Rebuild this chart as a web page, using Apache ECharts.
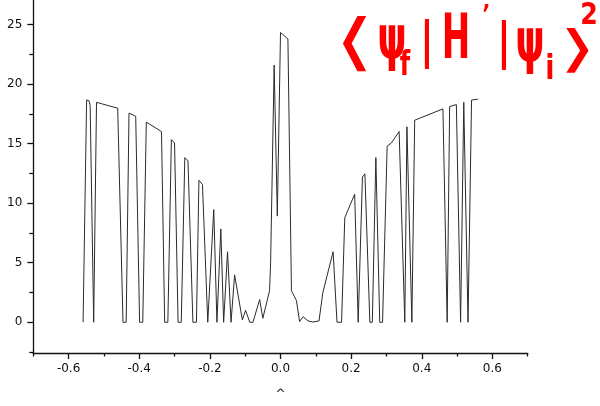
<!DOCTYPE html>
<html>
<head>
<meta charset="utf-8">
<script src="https://cdn.jsdelivr.net/npm/echarts@6/dist/echarts.min.js"></script>
<style>html,body{margin:0;padding:0;background:#fff}#c{width:600px;height:406px}</style>
</head>
<body>
<div id="c"></div>
<script>
// Data
const xValues = [-0.559,-0.549,-0.542,-0.539,-0.529,-0.521,-0.461,-0.446,-0.437,-0.429,-0.410,-0.399,-0.390,-0.380,-0.337,-0.328,-0.319,-0.309,-0.300,-0.290,-0.281,-0.271,-0.262,-0.248,-0.238,-0.231,-0.221,-0.206,-0.189,-0.180,-0.169,-0.161,-0.150,-0.140,-0.130,-0.108,-0.099,-0.087,-0.078,-0.059,-0.050,-0.031,-0.028,-0.018,-0.009,0.000,0.021,0.026,0.031,0.045,0.054,0.064,0.078,0.092,0.109,0.120,0.149,0.160,0.173,0.182,0.210,0.220,0.232,0.239,0.253,0.260,0.270,0.281,0.289,0.302,0.314,0.336,0.352,0.358,0.372,0.380,0.460,0.472,0.479,0.498,0.510,0.519,0.531,0.541,0.559];
const yValues = [0,18.66,18.58,18.21,0,18.46,17.97,0,0,17.56,17.29,0,0,16.80,16.01,0,0,15.33,15.05,0,0,13.82,13.55,0,0,11.92,11.56,0,9.46,0,7.83,0,5.92,0,3.98,0.2,1.01,0,0,1.91,0.33,2.65,4.96,21.59,8.91,24.32,23.78,13.31,2.65,1.83,0.06,0.47,0.11,0.02,0.11,2.51,5.92,0,0,8.78,10.75,0,12.19,12.46,0,0,13.82,0,0,14.78,15.05,16.01,0,16.41,0,16.96,17.91,0,18.11,18.27,0,18.46,0,18.65,18.73];
const xMajorTicks = [-0.6,-0.4,-0.2,0.0,0.2,0.4,0.6];
const xMinorTicks = [-0.7,-0.5,-0.3,-0.1,0.1,0.3,0.5,0.7];
const yMajorTicks = [0,5,10,15,20,25];
const yMinorTicks = [-2.5,2.5,7.5,12.5,17.5,22.5];
const titleGlyphs = ['⟨','ψ','f','|','H','\u2019','|','ψ','i','⟩','2'];

const chart = echarts.init(document.getElementById('c'), null, {renderer:'canvas'});
const points = xValues.map((x,i)=>[x,yValues[i]]);
const font = '"DejaVu Sans"';
const axisCol = '#111';

// positions/sizes for the red handwritten formula
const glyphLayout = [
  {x:354,y:47,s:62,sx:1.7,sy:1.0,w:'normal'},
  {x:392,y:42,s:60,sx:0.62,sy:1.0,w:'bold'},
  {x:405,y:66,s:30,sx:0.8,sy:1.1,w:'bold'},
  {x:427,y:44,s:50,sx:1.0,sy:1.0,w:'normal'},
  {x:456,y:42,s:62,sx:0.55,sy:1.0,w:'bold'},
  {x:486,y:20,s:34,sx:1.0,sy:1.0,w:'normal'},
  {x:504,y:45,s:50,sx:1.0,sy:1.0,w:'normal'},
  {x:530,y:45,s:60,sx:0.62,sy:1.0,w:'bold'},
  {x:550,y:70,s:30,sx:0.9,sy:1.1,w:'bold'},
  {x:578,y:53,s:56,sx:1.8,sy:0.9,w:'normal'},
  {x:589,y:16,s:28,sx:0.9,sy:1.1,w:'bold'}
];

chart.setOption({
  animation:false,
  grid:{left:33.3,right:72.3,top:0,bottom:43.7,containLabel:false},
  xAxis:[{
    type:'value',min:-0.7,max:0.7,position:'bottom',
    axisLine:{show:true,onZero:false,lineStyle:{color:axisCol,width:1.3}},
    axisTick:{show:true,inside:false,length:6,customValues:xMajorTicks,lineStyle:{color:axisCol,width:1.3}},
    axisLabel:{show:true,customValues:xMajorTicks,margin:10,color:axisCol,fontFamily:font,fontSize:12,
      formatter:v=>Number(v).toFixed(1)},
    splitLine:{show:false}
  },{
    type:'value',min:-0.7,max:0.7,position:'bottom',
    axisLine:{show:false,onZero:false},
    axisTick:{show:true,inside:false,length:3.5,customValues:xMinorTicks,lineStyle:{color:axisCol,width:1.3}},
    axisLabel:{show:false},splitLine:{show:false},
    name:'^',nameLocation:'middle',nameGap:36,nameTextStyle:{color:axisCol,fontFamily:font,fontSize:12}
  }],
  yAxis:[{
    type:'value',min:-2.58,max:27.05,position:'left',
    axisLine:{show:true,onZero:false,lineStyle:{color:axisCol,width:1.3}},
    axisTick:{show:true,inside:false,length:6,customValues:yMajorTicks,lineStyle:{color:axisCol,width:1.3}},
    axisLabel:{show:true,customValues:yMajorTicks,margin:11,color:axisCol,fontFamily:font,fontSize:12},
    splitLine:{show:false}
  },{
    type:'value',min:-2.58,max:27.05,position:'left',
    axisLine:{show:false,onZero:false},
    axisTick:{show:true,inside:false,length:4,customValues:yMinorTicks,lineStyle:{color:axisCol,width:1.3}},
    axisLabel:{show:false},splitLine:{show:false}
  }],
  series:[{
    type:'line',xAxisIndex:0,yAxisIndex:0,data:points,showSymbol:false,
    lineStyle:{color:'#2a2a2a',width:1},silent:true
  }],
  graphic:titleGlyphs.map((t,i)=>({
    type:'text',x:glyphLayout[i].x,y:glyphLayout[i].y,scaleX:glyphLayout[i].sx,scaleY:glyphLayout[i].sy,silent:true,
    style:{text:t,fill:'#ff0000',fontFamily:font,fontWeight:glyphLayout[i].w,fontSize:glyphLayout[i].s,
      align:'center',verticalAlign:'middle'}
  }))
});
</script>
</body>
</html>
